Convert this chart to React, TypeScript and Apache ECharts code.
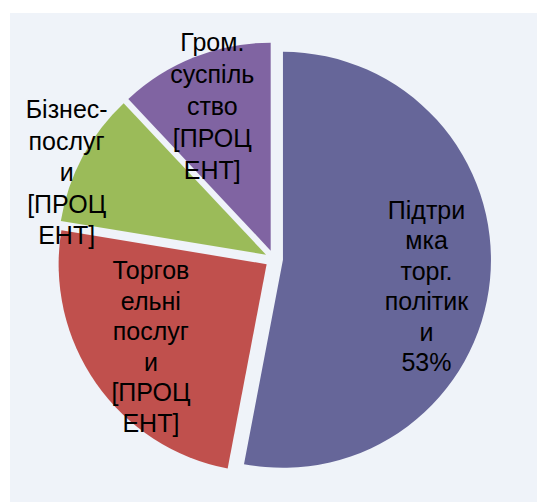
import React, { useEffect, useRef } from "react";
import * as echarts from "echarts";

const categories = [
  "Підтримка торг. політики",
  "Торговельні послуги",
  "Бізнес-послуги",
  "Гром. суспільство",
];
const values = [53, 24.6, 10.4, 12];
const labelTexts = [
  "Підтри\nмка\nторг.\nполітик\nи\n53%",
  "Торгов\nельні\nпослуг\nи\n[ПРОЦ\nЕНТ]",
  "Бізнес-\nпослуг\nи\n[ПРОЦ\nЕНТ]",
  "Гром.\nсуспіль\nство\n[ПРОЦ\nЕНТ]",
];
const colors = ["#666699", "#c0504d", "#9bbb59", "#8064a2"];
// shifts of each label from its default inside position
const labelShifts = [
  [37, 16],
  [-28, 21],
  [-105, -32],
  [-19, -45],
];
const lineHeights = [30.5, 30.5, 31.5, 32];

export default function App() {
  const ref = useRef<HTMLDivElement>(null);
  useEffect(() => {
    if (!ref.current) return;
    const chart = echarts.init(ref.current, undefined, { renderer: "svg" });
    chart.setOption({
      animation: false,
      backgroundColor: "#eff3f9",
      series: [
        {
          type: "pie",
          center: [264, 246],
          radius: [0, 208],
          startAngle: 90,
          clockwise: true,
          selectedMode: "multiple",
          selectedOffset: 9,
          avoidLabelOverlap: false,
          silent: true,
          itemStyle: { borderWidth: 0 },
          label: {
            show: true,
            position: "inside",
            color: "#000",
            fontFamily: "'Liberation Sans', Arial, sans-serif",
            fontSize: 25,
            align: "center",
            overflow: "none",
          },
          labelLine: { show: false },
          labelLayout: (params: any) => ({
            dx: labelShifts[params.dataIndex][0],
            dy: labelShifts[params.dataIndex][1],
          }),
          data: categories.map((name, i) => ({
            name,
            value: values[i],
            selected: true,
            itemStyle: { color: colors[i] },
            label: {
              formatter: labelTexts[i],
              lineHeight: lineHeights[i],
            },
          })),
        },
      ],
    });
    return () => chart.dispose();
  }, []);
  return (
    <div
      style={{
        position: "fixed",
        left: 0,
        top: 0,
        width: 537,
        height: 502,
        background: "#ffffff",
      }}
    >
      <div
        ref={ref}
        style={{ position: "absolute", left: 10, top: 13, width: 527, height: 489 }}
      />
    </div>
  );
}
